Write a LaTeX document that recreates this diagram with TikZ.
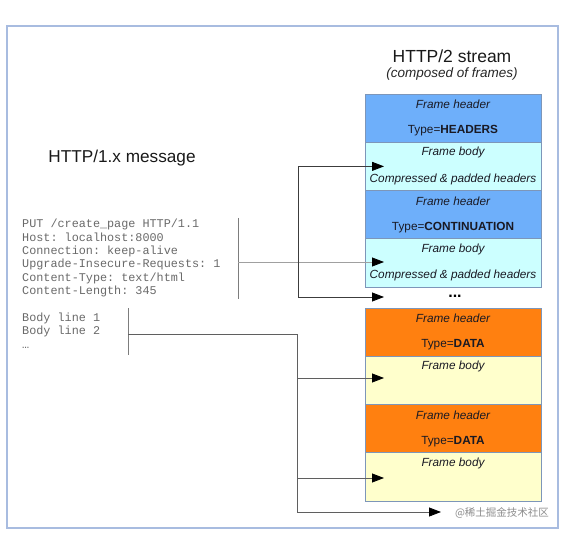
\documentclass[tikz,border=0pt]{standalone}
\usepackage{fontspec}
\setmainfont{Liberation Sans}
\setmonofont{Liberation Mono}
\newfontfamily\cjkfont{Noto Sans CJK SC}
\usetikzlibrary{arrows.meta,calc}
\definecolor{hdrblue}{RGB}{110,175,250}
\definecolor{bodycyan}{RGB}{204,255,255}
\definecolor{hdrorange}{RGB}{255,128,16}
\definecolor{bodyyellow}{RGB}{255,255,204}
\definecolor{frameline}{RGB}{168,188,224}
\definecolor{boxline}{RGB}{125,150,185}
\definecolor{monotext}{RGB}{105,105,105}
\definecolor{barline}{RGB}{125,125,125}
\definecolor{lightline}{RGB}{160,160,160}
\definecolor{darkline}{RGB}{60,60,60}
\definecolor{midline}{RGB}{95,95,95}
\definecolor{frametext}{RGB}{25,25,35}
\begin{document}
\begin{tikzpicture}[x=1pt,y=-1pt,
  fbox/.style={draw=boxline,line width=0.7pt,minimum width=176pt,minimum height=48.25pt,
    anchor=north west,inner sep=0pt,outer sep=0pt},
  hdrb/.style={fbox,fill=hdrblue},
  bodyb/.style={fbox,fill=bodycyan},
  hdro/.style={fbox,fill=hdrorange},
  bodyy/.style={fbox,fill=bodyyellow},
  ftxt/.style={font=\fontsize{11.8}{14}\selectfont,text=frametext,inner sep=0pt},
  tip/.style={-{Triangle[length=12pt,width=9pt,color=black]}},
  bothtip/.style={{Triangle[length=12pt,width=9pt,color=black]}-{Triangle[length=12pt,width=9pt,color=black]}},
  bar/.style={draw=barline,line width=1pt},
]
\useasboundingbox (0,0) rectangle (572,537);
\draw[frameline,line width=1.6pt] (7,26) rectangle (558,528);

% titles
\node[font=\fontsize{17.5}{20}\selectfont,text=black!90] (t2) at (452,56) {HTTP/2 stream};
\node[font=\fontsize{13.5}{16}\selectfont\itshape,text=black!85] (t2s) at (452,74) {(composed of frames)};
\node[font=\fontsize{17.2}{20}\selectfont,text=black!90] (t1) at (122,158) {HTTP/1.x message};

% HTTP/1 message text
\node[anchor=north west,inner sep=0pt,align=left,text=monotext,
  font=\ttfamily\fontsize{11.8}{13.4}\selectfont] (msg) at (22,219)
  {PUT /create\_page HTTP/1.1\\
   Host: localhost:8000\\
   Connection: keep-alive\\
   Upgrade-Insecure-Requests: 1\\
   Content-Type: text/html\\
   Content-Length: 345\\
   \mbox{}\\
   Body line 1\\
   Body line 2\\
   …};

% frames
\node[hdrb] (h1) at (365,94) {};
\node[bodyb] (b1) at (365,142.25) {};
\node[hdrb] (h2) at (365,190.5) {};
\node[bodyb] (b2) at (365,238.75) {};
\node[hdro] (h3) at (365,308) {};
\node[bodyy] (b3) at (365,356.25) {};
\node[hdro] (h4) at (365,404.5) {};
\node[bodyy] (b4) at (365,452.75) {};

\node[ftxt] (h1a) at ($(h1.north)+(0,10.5)$) {\itshape Frame header};
\node[ftxt] (h1b) at ($(h1.north)+(0,37)$) {Type=\textbf{HEADERS}};
\node[ftxt] (b1a) at ($(b1.north)+(0,10.5)$) {\itshape Frame body};
\node[ftxt] (b1b) at ($(b1.north)+(0,37)$) {\itshape Compressed \& padded headers};
\node[ftxt] (h2a) at ($(h2.north)+(0,10.5)$) {\itshape Frame header};
\node[ftxt] (h2b) at ($(h2.north)+(0,37)$) {Type=\textbf{CONTINUATION}};
\node[ftxt] (b2a) at ($(b2.north)+(0,10.5)$) {\itshape Frame body};
\node[ftxt] (b2b) at ($(b2.north)+(0,37)$) {\itshape Compressed \& padded headers};
\node[ftxt] (h3a) at ($(h3.north)+(0,10.5)$) {\itshape Frame header};
\node[ftxt] (h3b) at ($(h3.north)+(0,37)$) {Type=\textbf{DATA}};
\node[ftxt] (b3a) at ($(b3.north)+(0,10.5)$) {\itshape Frame body};
\node[ftxt] (h4a) at ($(h4.north)+(0,10.5)$) {\itshape Frame header};
\node[ftxt] (h4b) at ($(h4.north)+(0,37)$) {Type=\textbf{DATA}};
\node[ftxt] (b4a) at ($(b4.north)+(0,10.5)$) {\itshape Frame body};

\node[font=\fontsize{16}{18}\selectfont\bfseries,inner sep=0pt] (dots) at (455,296) {...};

% brackets
\coordinate (hbt) at (238,218);
\coordinate (hbb) at (238,299);
\coordinate (hbm) at (238,262);
\draw[bar] (hbt) -- (hbb);
\draw[lightline,line width=0.8pt,tip] (hbm) -- ([xshift=19pt]hbm -| b2.west);

\coordinate (cj) at (298,297);
\coordinate (dtip) at (384,297);
\draw[darkline,line width=0.8pt,bothtip] ([xshift=19pt]b1.west) -| (cj) -- (dtip);

\coordinate (bbt) at (128,308);
\coordinate (bbb) at (128,355);
\coordinate (bbm) at (128,334);
\coordinate (lj) at (297,334);
\coordinate (lb) at (297,512);
\coordinate (endtip) at (441,512);
\draw[bar] (bbt) -- (bbb);
\draw[midline,line width=0.8pt,tip] (bbm) -- (lj) -- (lb) -- (endtip);
\draw[midline,line width=0.8pt,tip] (297,378) -- ([xshift=19pt]b3.west |- 0,378);
\draw[midline,line width=0.8pt,tip] (297,478) -- ([xshift=19pt]b4.west |- 0,478);

\node[font=\cjkfont\fontsize{10.5}{12}\selectfont,text=black!45,inner sep=0pt] (wm) at (502,513) {@稀土掘金技术社区};
\end{tikzpicture}
\end{document}
